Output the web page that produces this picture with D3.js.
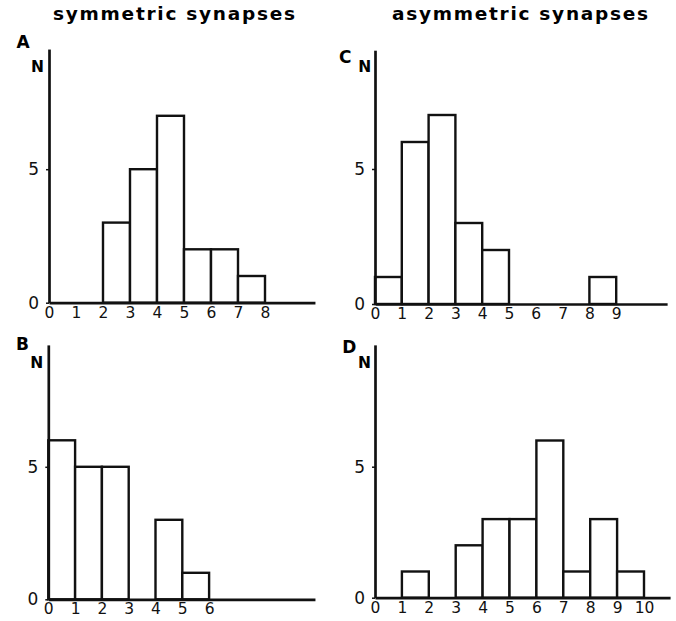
<!DOCTYPE html>
<html><head><meta charset="utf-8">
<script src="https://cdn.jsdelivr.net/npm/d3@7"></script>
<style>
html,body{margin:0;padding:0;background:#fff;}
svg{display:block;}
</style></head>
<body>
<script>
// ---- data (counts per unit-width bin starting at 0) ----
const countsA = [0, 0, 3, 5, 7, 2, 2, 1];
const countsB = [6, 5, 5, 0, 3, 1];
const countsC = [1, 6, 7, 3, 2, 0, 0, 0, 1];
const countsD = [0, 1, 0, 2, 3, 3, 6, 1, 3, 1];
const ticksA = [0, 1, 2, 3, 4, 5, 6, 7, 8];
const ticksB = [0, 1, 2, 3, 4, 5, 6];
const ticksC = [0, 1, 2, 3, 4, 5, 6, 7, 8, 9];
const ticksD = [0, 1, 2, 3, 4, 5, 6, 7, 8, 9, 10];
const yTicks = [0, 5];
const panelLetters = ["A", "B", "C", "D"];
const columnTitles = ["symmetric synapses", "asymmetric synapses"];

// ---- layout ----
const W = 676, H = 621;
const panels = [
  {letter: panelLetters[0], counts: countsA, ticks: ticksA, x0: 49, xUnit: 27.0, xMax: 9.85, y0: 302.7, yUnit: 26.7, yMax: 9.5,
   lx: 23, ly: 48, nx: 37.5, ny: 71.5},
  {letter: panelLetters[1], counts: countsB, ticks: ticksB, x0: 48.3, xUnit: 26.8, xMax: 9.95, y0: 599.3, yUnit: 26.5, yMax: 9.6,
   lx: 22.5, ly: 349.5, nx: 36.7, ny: 368.3},
  {letter: panelLetters[2], counts: countsC, ticks: ticksC, x0: 375, xUnit: 26.8, xMax: 10.9, y0: 304, yUnit: 27.0, yMax: 9.4,
   lx: 345.3, ly: 63, nx: 364.7, ny: 71.7},
  {letter: panelLetters[3], counts: countsD, ticks: ticksD, x0: 375, xUnit: 26.9, xMax: 10.97, y0: 597.7, yUnit: 26.2, yMax: 9.65,
   lx: 349.2, ly: 353.3, nx: 364.5, ny: 368.3}
];

const svg = d3.select("body").append("svg").attr("width", W).attr("height", H);
const font = "'DejaVu Sans', 'Liberation Sans', sans-serif";
const boldFont = "'DejaVu Sans', 'Liberation Sans', Arial, sans-serif";

// titles
svg.append("text").attr("x", 174).attr("y", 20).attr("text-anchor", "middle")
  .attr("font-family", boldFont).attr("font-weight", "bold").attr("font-size", 18.5)
  .attr("textLength", 242).attr("lengthAdjust", "spacing").text(columnTitles[0]);
svg.append("text").attr("x", 520).attr("y", 20).attr("text-anchor", "middle")
  .attr("font-family", boldFont).attr("font-weight", "bold").attr("font-size", 18.5)
  .attr("textLength", 256).attr("lengthAdjust", "spacing").text(columnTitles[1]);

panels.forEach(p => {
  const g = svg.append("g");
  const x = d3.scaleLinear().domain([0, p.xMax]).range([p.x0, p.x0 + p.xMax * p.xUnit]);
  const y = d3.scaleLinear().domain([0, p.yMax]).range([p.y0, p.y0 - p.yMax * p.yUnit]);

  // bars
  const bins = p.counts.map((c, i) => ({i, c})).filter(d => d.c > 0);
  g.selectAll("rect").data(bins).join("rect")
    .attr("x", d => x(d.i)).attr("width", d => x(d.i + 1) - x(d.i))
    .attr("y", d => y(d.c)).attr("height", d => y(0) - y(d.c))
    .attr("fill", "#fff").attr("stroke", "#111").attr("stroke-width", 2.4);

  // x axis
  const xa = g.append("g").attr("transform", `translate(0,${p.y0})`)
    .call(d3.axisBottom(x).tickValues(p.ticks).tickFormat(d3.format("d")).tickSize(0).tickPadding(4));
  xa.select(".domain").attr("stroke", "#111").attr("stroke-width", 2.7);
  xa.selectAll("text").attr("font-family", font).attr("font-size", 15.5).attr("fill", "#111");

  // y axis
  const ya = g.append("g").attr("transform", `translate(${p.x0},0)`)
    .call(d3.axisLeft(y).tickValues(yTicks).tickFormat(d3.format("d")).tickSizeInner(3).tickSizeOuter(0).tickPadding(7));
  ya.select(".domain").attr("stroke", "#111").attr("stroke-width", 2.7);
  ya.selectAll(".tick line").attr("stroke", "#111").attr("stroke-width", 1.5);
  ya.selectAll("text").attr("font-family", font).attr("font-size", 17).attr("fill", "#111");

  // letters
  g.append("text").attr("x", p.lx).attr("y", p.ly).attr("text-anchor", "middle")
    .attr("font-family", boldFont).attr("font-weight", "bold").attr("font-size", 17)
    .text(p.letter);
  g.append("text").attr("x", p.nx).attr("y", p.ny).attr("text-anchor", "middle")
    .attr("font-family", boldFont).attr("font-weight", "bold").attr("font-size", 15.5)
    .text("N");
});
</script>
</body></html>
